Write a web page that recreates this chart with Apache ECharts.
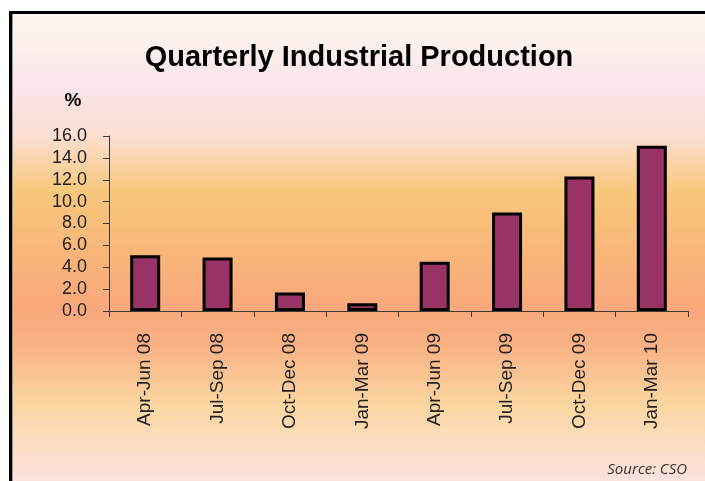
<!DOCTYPE html>
<html>
<head>
<meta charset="utf-8">
<script src="https://cdn.jsdelivr.net/npm/echarts@6/dist/echarts.min.js"></script>
<style>
  html, body { margin: 0; padding: 0; background: #ffffff; }
  #chart { width: 705px; height: 481px; }
</style>
</head>
<body>
<div id="chart"></div>
<script>
// Quarterly industrial production growth, % (source: CSO)
const quarters = ['Apr-Jun 08', 'Jul-Sep 08', 'Oct-Dec 08', 'Jan-Mar 09',
                  'Apr-Jun 09', 'Jul-Sep 09', 'Oct-Dec 09', 'Jan-Mar 10'];
const growth = [5.1, 4.9, 1.7, 0.7, 4.5, 9.0, 12.3, 15.1];
const yTicks = { min: 0, max: 16, step: 2 };

const chart = echarts.init(document.getElementById('chart'), null, { renderer: 'canvas' });

// panel background: cream at the top, warm orange band, pale pink at the foot
const panelFill = new echarts.graphic.LinearGradient(0, 0, 0, 1, [
  { offset: 0.00, color: '#fdf6ef' },
  { offset: 0.07, color: '#fcf0ec' },
  { offset: 0.16, color: '#fbe4ea' },
  { offset: 0.26, color: '#fbdfd2' },
  { offset: 0.38, color: '#f8c77b' },
  { offset: 0.49, color: '#f8b879' },
  { offset: 0.62, color: '#f9a87c' },
  { offset: 0.70, color: '#f9b285' },
  { offset: 0.83, color: '#fbd7a2' },
  { offset: 1.00, color: '#fde3e4' }
]);

chart.setOption({
  backgroundColor: '#ffffff',
  animation: false,
  graphic: [
    {
      type: 'rect', z: -10, silent: true,
      shape: { x: 10.5, y: 12.5, width: 740, height: 474 },
      style: { fill: panelFill, stroke: '#000000', lineWidth: 3 }
    },
    {
      type: 'line', z: -9, silent: true,
      shape: { x1: 12.5, y1: 14, x2: 12.5, y2: 481 },
      style: { stroke: '#9a9a9a', lineWidth: 1 }
    },
    {
      type: 'text', z: 10, silent: true,
      style: {
        text: 'Quarterly Industrial Production',
        x: 359, y: 58, textAlign: 'center', textVerticalAlign: 'middle',
        font: 'bold 29px "Liberation Sans", Arial, sans-serif', fill: '#000000'
      }
    },
    {
      type: 'text', z: 10, silent: true,
      style: {
        text: '%', x: 73, y: 101, textAlign: 'center', textVerticalAlign: 'middle',
        font: 'bold 19px "Liberation Sans", Arial, sans-serif', fill: '#000000'
      }
    },
    {
      type: 'text', z: 10, silent: true,
      style: {
        text: 'Source: CSO', x: 687, y: 470, textAlign: 'right', textVerticalAlign: 'middle',
        font: 'italic 15px "Open Sans", "DejaVu Sans", sans-serif', fill: '#333333'
      }
    }
  ],
  grid: { left: 109, right: 17, top: 136, bottom: 170, containLabel: false },
  xAxis: {
    type: 'category',
    data: quarters,
    boundaryGap: true,
    axisLine: { show: true, lineStyle: { color: '#3a3a3a', width: 1 } },
    axisTick: { show: true, inside: false, length: 6, alignWithLabel: false, lineStyle: { color: '#3a3a3a' } },
    axisLabel: {
      rotate: 90, margin: 22, interval: 0,
      fontFamily: '"Liberation Sans", Arial, sans-serif', fontSize: 19, color: '#222222'
    },
    splitLine: { show: false }
  },
  yAxis: {
    type: 'value',
    min: yTicks.min, max: yTicks.max, interval: yTicks.step,
    axisLine: { show: true, lineStyle: { color: '#3a3a3a', width: 1 } },
    axisTick: { show: true, inside: false, length: 6, lineStyle: { color: '#3a3a3a' } },
    axisLabel: {
      margin: 22,
      formatter: v => v.toFixed(1),
      fontFamily: '"Liberation Sans", Arial, sans-serif', fontSize: 18, color: '#222222'
    },
    splitLine: { show: false }
  },
  series: [{
    type: 'bar',
    data: growth,
    barWidth: 30,
    itemStyle: { color: '#993366', borderColor: '#000000', borderWidth: 3 }
  }]
});
</script>
</body>
</html>
